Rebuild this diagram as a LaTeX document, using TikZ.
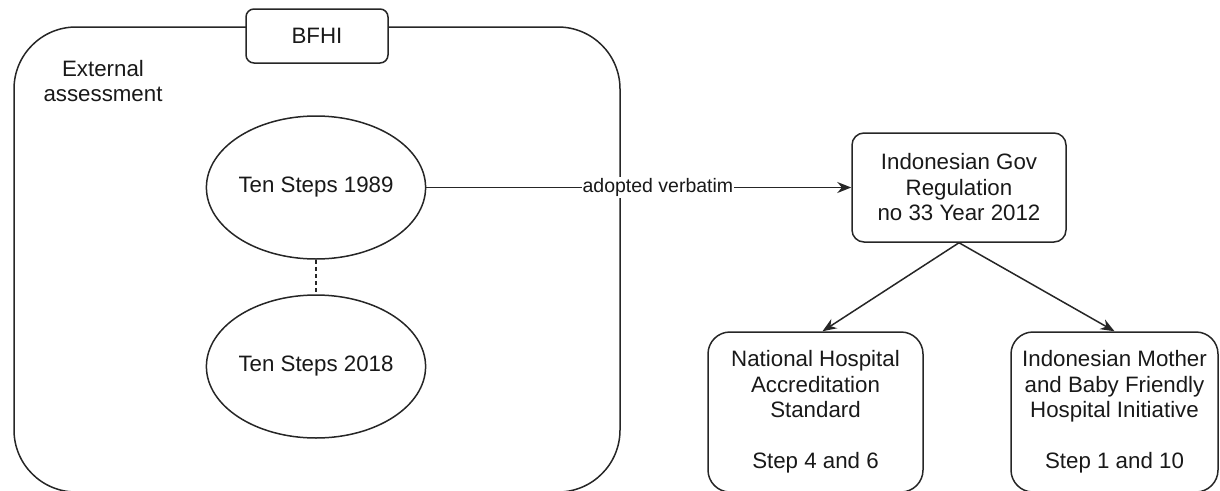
\documentclass[tikz,border=0pt]{standalone}
\usepackage{fontspec}
\setmainfont{Liberation Sans}
\usetikzlibrary{arrows.meta,shapes.geometric}
\begin{document}
\begin{tikzpicture}[x=1pt,y=-1pt,
  every node/.style={font=\fontsize{22.3}{25.5}\selectfont, align=center, text=black!90},
  line/.style={line width=1.5pt, draw=black!85},
  box/.style={line, rounded corners=#1, inner sep=0pt},
  oval/.style={line, ellipse, inner sep=0pt},
  arr/.style={line, -{Stealth[length=14pt,width=11pt]}},
  lbl/.style={font=\fontsize{19.5}{22}\selectfont, fill=white, inner sep=1pt}
]
\useasboundingbox (0,0) rectangle (1220,490);
\node[box=62pt, minimum width=606pt, minimum height=465pt] (outer) at (317,259.5) {};
\node[box=8pt, fill=white, minimum width=142pt, minimum height=54pt] (bfhi) at (317,36) {BFHI};
\node (ext) at (103,81) {External\\assessment};
\node[oval, minimum width=214pt, minimum height=143pt] (e1) at (316,187.5) {Ten Steps 1989};
\node[oval, minimum width=214pt, minimum height=143pt] (e2) at (316,366.5) {Ten Steps 2018};
\node[box=12pt, minimum width=214pt, minimum height=109pt] (gov) at (959,187.5) {Indonesian Gov\\Regulation\\no 33 Year 2012};
\node[box=22pt, minimum width=215pt, minimum height=160pt] (nh) at (815.5,412) {National Hospital\\Accreditation\\Standard\\[25.5pt]Step 4 and 6};
\node[box=22pt, minimum width=207pt, minimum height=160pt] (im) at (1114.5,412) {Indonesian Mother\\and Baby Friendly\\Hospital Initiative\\[25.5pt]Step 1 and 10};
\draw[line, dash pattern=on 4pt off 3pt] (e1.south) -- (e2.north);
\draw[arr] (e1.east) -- node[lbl, pos=0.545] (lab) {adopted verbatim} (gov.west);
\draw[arr] (gov.south) -- ([xshift=7pt]nh.north);
\draw[arr] (gov.south) -- (im.north);
\end{tikzpicture}
\end{document}
